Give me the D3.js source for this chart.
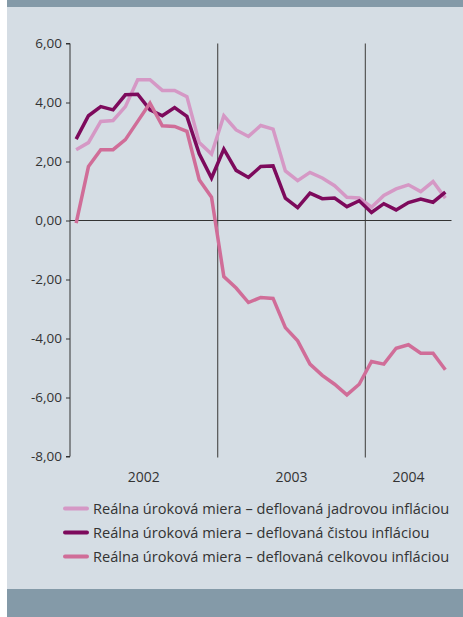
<!DOCTYPE html>
<html><head><meta charset="utf-8">
<script src="https://cdn.jsdelivr.net/npm/d3@7"></script>
<style>
html,body{margin:0;padding:0;background:#fff;}
svg{display:block;font-family:"Open Sans",Arial,sans-serif;}
</style></head>
<body>
<svg id="c" width="463" height="617"></svg>
<script>
const months = d3.range(31).map(i => { const y = 2002 + Math.floor(i/12); const m = i%12 + 1; return y + "-" + String(m).padStart(2,"0"); });
const years = ["2002","2003","2004"];
const yTicks = [6,4,2,0,-2,-4,-6,-8];
const seriesNames = [
  "Reálna úroková miera – deflovaná jadrovou infláciou",
  "Reálna úroková miera – deflovaná čistou infláciou",
  "Reálna úroková miera – deflovaná celkovou infláciou"
];
const jadrova = [2.40,2.64,3.36,3.39,3.86,4.77,4.77,4.41,4.41,4.20,2.64,2.25,
                 3.55,3.07,2.85,3.22,3.10,1.68,1.35,1.63,1.44,1.18,0.79,0.76,
                 0.45,0.85,1.07,1.21,0.98,1.32,0.76];
const cista = [2.76,3.55,3.86,3.75,4.26,4.28,3.75,3.55,3.83,3.53,2.26,1.44,
               2.42,1.70,1.46,1.83,1.85,0.76,0.44,0.93,0.74,0.76,0.47,0.67,
               0.27,0.57,0.36,0.61,0.73,0.62,0.96];
const celkova = [-0.09,1.83,2.40,2.40,2.74,3.36,3.98,3.21,3.19,3.02,1.38,0.79,
                 -1.90,-2.29,-2.78,-2.61,-2.64,-3.63,-4.08,-4.87,-5.25,-5.55,-5.91,-5.55,
                 -4.78,-4.87,-4.33,-4.21,-4.50,-4.50,-5.06];
const colors = ["#D598C5","#7D0A5C","#D06D98"];
const allSeries = [jadrova, cista, celkova];

const svg = d3.select("#c");
svg.append("rect").attr("x",7).attr("y",0).attr("width",456).attr("height",617).attr("fill","#D5DDE4");
svg.append("rect").attr("x",7).attr("y",0).attr("width",456).attr("height",7).attr("fill","#849AA8");
svg.append("rect").attr("x",7).attr("y",589).attr("width",456).attr("height",28).attr("fill","#849AA8");

const x = d3.scaleBand().domain(months).range([70,451.5]).padding(0);
const y = d3.scaleLinear().domain([-8,6]).range([456.5,43.5]);

// year separators
[12,24].forEach(i => {
  svg.append("line").attr("x1",x(months[i])).attr("x2",x(months[i]))
    .attr("y1",y(6)).attr("y2",457.5).attr("stroke","#555").attr("stroke-width",1.2);
});

// y axis
const yAxis = d3.axisLeft(y).tickValues(yTicks).tickSize(4).tickPadding(4)
  .tickFormat(d => d3.format(".2f")(d).replace(".",",").replace("−","-"));
const ga = svg.append("g").attr("transform","translate(70,0)").call(yAxis);
ga.select(".domain").attr("stroke","#333").attr("d","M-4,"+y(6)+"H0V"+y(-8)+"H-4");
ga.selectAll(".tick line").attr("stroke","#333");
ga.selectAll(".tick text").attr("fill","#333").style("font-size","13.5px").style("font-family","'Open Sans',Arial,sans-serif");

// zero line
svg.append("line").attr("x1",70).attr("x2",451.5).attr("y1",y(0)).attr("y2",y(0)).attr("stroke","#333").attr("stroke-width",1);

// year labels
const yearStarts = [0,12,24], yearEnds = [11,23,30];
years.forEach((yr,k) => {
  const cx = (x(months[yearStarts[k]]) + x(months[yearEnds[k]]) + x.bandwidth())/2;
  svg.append("text").attr("x",cx).attr("y",482).attr("text-anchor","middle")
    .attr("fill","#333").style("font-size","14px").text(yr);
});

// lines
const line = d3.line().x((d,i) => x(months[i]) + x.bandwidth()/2).y(d => y(d));
allSeries.forEach((s,k) => {
  svg.append("path").datum(s).attr("d",line).attr("fill","none")
    .attr("stroke",colors[k]).attr("stroke-width",3.5).attr("stroke-linejoin","miter");
});

// legend
seriesNames.forEach((n,k) => {
  const ly = 508.5 + k*24;
  svg.append("line").attr("x1",65).attr("x2",87).attr("y1",ly).attr("y2",ly)
    .attr("stroke",colors[k]).attr("stroke-width",4).attr("stroke-linecap","round");
  svg.append("text").attr("x",93).attr("y",ly+5).attr("fill","#333")
    .style("font-size","14.6px").text(n);
});
</script>
</body></html>
